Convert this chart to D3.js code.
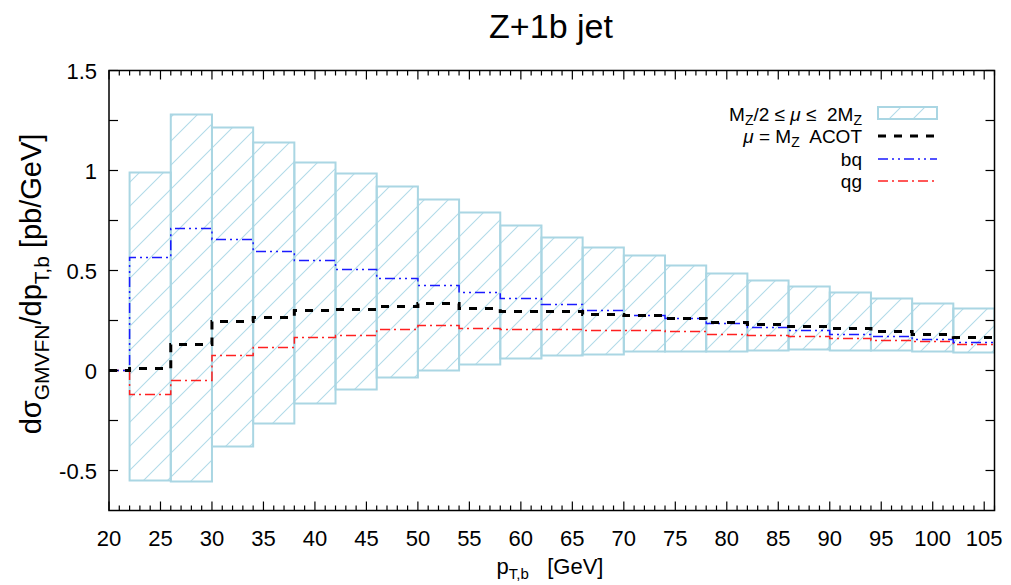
<!DOCTYPE html>
<meta charset="utf-8">
<style>
body { margin: 0; background: #fff; }
svg text { font-family: "Liberation Sans", Arial, Helvetica, sans-serif; fill: #000; }
.frame { fill: none; stroke: #000; stroke-width: 1.5; }
.tick { stroke: #000; stroke-width: 1.2; }
.band { fill: url(#hatch); stroke: #aad6e3; stroke-width: 2; }
.step { fill: none; }
.acot { stroke: #000; stroke-width: 3; stroke-dasharray: 8 8; }
.bq { stroke: #1a1aff; stroke-width: 1.5; stroke-dasharray: 10 4 2 4 2 4; }
.qg { stroke: #ff2020; stroke-width: 1.5; stroke-dasharray: 10 4 2 4; }
</style>
<svg width="1011" height="585"></svg>
<script src="https://cdn.jsdelivr.net/npm/d3@7"></script>
<script>

// lower edges of the 4 GeV bins
var binLo = [22, 26, 30, 34, 38, 42, 46, 50, 54, 58, 62, 66, 70, 74, 78, 82, 86, 90, 94, 98, 102];
var binHi = 106;

// scale band  M_Z/2 <= mu <= 2M_Z
var bandHi = [0.99, 1.28, 1.215, 1.14, 1.04, 0.985, 0.92, 0.855, 0.79, 0.725, 0.665, 0.615, 0.575, 0.525, 0.485, 0.45, 0.42, 0.39, 0.36, 0.335, 0.31];
var bandLo = [-0.55, -0.555, -0.38, -0.265, -0.165, -0.095, -0.035, 0.0, 0.03, 0.06, 0.075, 0.08, 0.095, 0.095, 0.095, 0.1, 0.105, 0.1, 0.1, 0.095, 0.09];

var acot = [0.01, 0.13, 0.245, 0.265, 0.30, 0.305, 0.32, 0.335, 0.31, 0.295, 0.295, 0.28, 0.275, 0.26, 0.24, 0.23, 0.22, 0.21, 0.195, 0.18, 0.165];
var bq   = [0.565, 0.71, 0.655, 0.595, 0.55, 0.505, 0.46, 0.425, 0.39, 0.36, 0.33, 0.30, 0.275, 0.26, 0.235, 0.215, 0.20, 0.18, 0.17, 0.155, 0.14];
var qg   = [-0.12, -0.05, 0.075, 0.115, 0.165, 0.175, 0.205, 0.225, 0.21, 0.205, 0.205, 0.2, 0.2, 0.195, 0.18, 0.175, 0.17, 0.16, 0.15, 0.145, 0.13];

var xTicks = [20, 25, 30, 35, 40, 45, 50, 55, 60, 65, 70, 75, 80, 85, 90, 95, 100, 105];
var yTicks = [-0.5, 0, 0.5, 1, 1.5];

var svg = d3.select("svg");
var pL = 109, pR = 994.5, pT = 70.5, pB = 510.5;

var x = d3.scaleLinear().domain([20, 106]).range([pL, pR]);
var y = d3.scaleLinear().domain([-0.7, 1.5]).range([pB, pT]);

var defs = svg.append("defs");
defs.append("pattern")
    .attr("id", "hatch")
    .attr("patternUnits", "userSpaceOnUse")
    .attr("width", 24).attr("height", 24)
  .append("path")
    .attr("d", "M-6,6 L6,-6 M0,24 L24,0 M18,30 L30,18")
    .attr("stroke", "#b2dbe8")
    .attr("stroke-width", 1.1);
defs.append("clipPath").attr("id", "clip")
  .append("rect")
    .attr("x", pL).attr("y", pT)
    .attr("width", pR - pL).attr("height", pB - pT);

var plot = svg.append("g").attr("clip-path", "url(#clip)");

// band boxes
var bins = binLo.map(function(d, i) {
  return { lo: d, hi: i < binLo.length - 1 ? binLo[i + 1] : binHi, top: bandHi[i], bot: bandLo[i] };
});

plot.selectAll("rect.band")
    .data(bins)
    .enter().append("rect")
    .attr("class", "band")
    .attr("x", function(d) { return x(d.lo); })
    .attr("width", function(d) { return x(d.hi) - x(d.lo); })
    .attr("y", function(d) { return y(d.top); })
    .attr("height", function(d) { return y(d.bot) - y(d.top); });

// step lines, zero below the first bin
function steps(vals) {
  var pts = [[20, 0]];
  binLo.forEach(function(b, i) { pts.push([b, vals[i]]); });
  pts.push([binHi, vals[vals.length - 1]]);
  return pts;
}

var line = d3.line()
    .curve(d3.curveStepAfter)
    .x(function(d) { return x(d[0]); })
    .y(function(d) { return y(d[1]); });

plot.append("path").attr("class", "step qg").attr("d", line(steps(qg)));
plot.append("path").attr("class", "step bq").attr("d", line(steps(bq)));
plot.append("path").attr("class", "step acot").attr("d", line(steps(acot)));

// ticks (inward, mirrored)
var ticks = svg.append("g");
d3.range(20, 107, 1).forEach(function(v) {
  var len = v % 5 === 0 ? 9 : 5;
  ticks.append("line").attr("class", "tick")
      .attr("x1", x(v)).attr("x2", x(v)).attr("y1", pB).attr("y2", pB - len);
  ticks.append("line").attr("class", "tick")
      .attr("x1", x(v)).attr("x2", x(v)).attr("y1", pT).attr("y2", pT + len);
});
d3.range(-0.5, 1.51, 0.25).forEach(function(v) {
  ticks.append("line").attr("class", "tick")
      .attr("x1", pL).attr("x2", pL + 9).attr("y1", y(v)).attr("y2", y(v));
  ticks.append("line").attr("class", "tick")
      .attr("x1", pR).attr("x2", pR - 9).attr("y1", y(v)).attr("y2", y(v));
});

svg.append("rect").attr("class", "frame")
    .attr("x", pL).attr("y", pT)
    .attr("width", pR - pL).attr("height", pB - pT);

svg.append("g").selectAll("text")
    .data(xTicks)
    .enter().append("text")
    .attr("x", function(d) { return x(d); })
    .attr("y", 546)
    .attr("text-anchor", "middle")
    .style("font-size", "22px")
    .text(function(d) { return d; });

svg.append("g").selectAll("text")
    .data(yTicks)
    .enter().append("text")
    .attr("x", 97)
    .attr("y", function(d) { return y(d) + 8; })
    .attr("text-anchor", "end")
    .style("font-size", "22px")
    .text(function(d) { return d; });

// title
svg.append("text")
    .attr("x", 551).attr("y", 38)
    .attr("text-anchor", "middle")
    .style("font-size", "34px")
    .text("Z+1b jet");

// x label
var xl = svg.append("text")
    .attr("x", 550).attr("y", 574)
    .attr("text-anchor", "middle")
    .style("font-size", "22px");
xl.append("tspan").text("p");
xl.append("tspan").attr("dy", 5).style("font-size", "15px").text("T,b");
xl.append("tspan").attr("dy", -5).text("\u00a0\u00a0 [GeV]");

// y label
var yl = svg.append("text")
    .attr("transform", "translate(41,284) rotate(-90)")
    .attr("text-anchor", "middle")
    .style("font-size", "29px");
yl.append("tspan").text("d\u03c3");
yl.append("tspan").attr("dy", 8).style("font-size", "21px").text("GMVFN");
yl.append("tspan").attr("dy", -8).text("/dp");
yl.append("tspan").attr("dy", 8).style("font-size", "21px").text("T,b");
yl.append("tspan").attr("dy", -8).text(" [pb/GeV]");

// legend
var lg = svg.append("g").style("font-size", "19px");
var tx = 862, sx1 = 878, sx2 = 937;
var rows = [114, 136, 159, 181];

var t1 = lg.append("text").attr("x", tx).attr("y", rows[0] + 7).attr("text-anchor", "end");
t1.append("tspan").text("M");
t1.append("tspan").attr("dy", 4).style("font-size", "14px").text("Z");
t1.append("tspan").attr("dy", -4).text("/2 \u2264 ");
t1.append("tspan").style("font-style", "italic").text("\u03bc");
t1.append("tspan").text(" \u2264 \u00a02M");
t1.append("tspan").attr("dy", 4).style("font-size", "14px").text("Z");
lg.append("rect").attr("class", "band")
    .attr("x", sx1).attr("y", rows[0] - 7).attr("width", sx2 - sx1).attr("height", 12);

var t2 = lg.append("text").attr("x", tx).attr("y", rows[1] + 7).attr("text-anchor", "end");
t2.append("tspan").style("font-style", "italic").text("\u03bc");
t2.append("tspan").text(" = M");
t2.append("tspan").attr("dy", 4).style("font-size", "14px").text("Z");
t2.append("tspan").attr("dy", -4).text("\u00a0 ACOT");
lg.append("line").attr("class", "step acot")
    .attr("x1", sx1).attr("x2", sx2).attr("y1", rows[1]).attr("y2", rows[1]);

lg.append("text").attr("x", tx).attr("y", rows[2] + 7).attr("text-anchor", "end").text("bq");
lg.append("line").attr("class", "step bq")
    .attr("x1", sx1).attr("x2", sx2).attr("y1", rows[2]).attr("y2", rows[2]);

lg.append("text").attr("x", tx).attr("y", rows[3] + 7).attr("text-anchor", "end").text("qg");
lg.append("line").attr("class", "step qg")
    .attr("x1", sx1).attr("x2", sx2).attr("y1", rows[3]).attr("y2", rows[3]);

</script>
